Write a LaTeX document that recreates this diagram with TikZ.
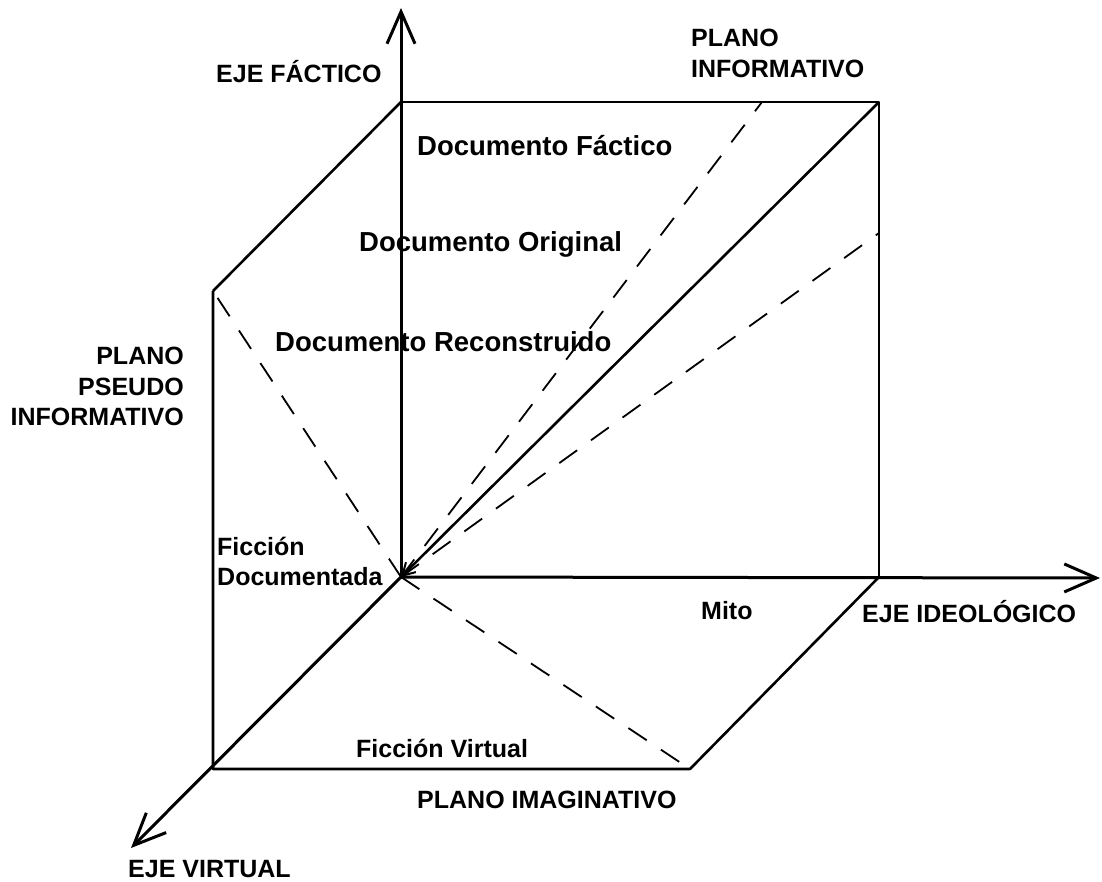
\documentclass[tikz,border=0pt]{standalone}
\usepackage{fontspec}
\setmainfont{Liberation Sans}
\usetikzlibrary{arrows.meta}
\begin{document}
\begin{tikzpicture}[x=1pt,y=-1pt,
  axis/.style={line width=3pt,line join=round,
    -{Straight Barb[length=32pt,width=28pt,line width=3pt]}},
  edge/.style={line width=2.6pt,line join=round},
  guide/.style={line width=1.8pt,dash pattern=on 22pt off 17pt},
  lab/.style={font=\bfseries\fontsize{25}{30.5}\selectfont,inner sep=0pt},
  doc/.style={font=\bfseries\fontsize{27.5}{33}\selectfont,inner sep=0pt},
]
\useasboundingbox (0,0) rectangle (1102,882);

% corners of the box and axis ends
\coordinate (O)  at (401,577);
\coordinate (A)  at (401,102);
\coordinate (B)  at (879,102);
\coordinate (C)  at (879,577);
\coordinate (D)  at (213,291);
\coordinate (E)  at (213,769);
\coordinate (F)  at (690,769);
\coordinate (T1) at (762,102);
\coordinate (R1) at (879,233);
\coordinate (Xf) at (401,8);
\coordinate (Xi) at (1100,578);
\coordinate (Xv) at (131,848);

% box edges
\draw[edge] (A) -- (B) -- (C);
\draw[edge] (D) -- (A);
\draw[edge] (D) -- (E) -- (F) -- (C);

% diagonals
\draw[edge,{Straight Barb[length=12pt,width=14pt,line width=2pt]}-] (O) -- (B);
\draw[guide] (O) -- (T1);
\draw[guide] (O) -- (R1);
\draw[guide] (O) -- (D);
\draw[guide] (O) -- (F);

% axes
\draw[axis] (O) -- (Xf);
\draw[axis] (O) -- (Xi);
\draw[axis] (O) -- (Xv);

% labels
\node[lab,anchor=base west] (lf) at (216,83) {EJE FÁCTICO};
\node[lab,anchor=north west,align=left] (lpi) at (691,29) {PLANO\\INFORMATIVO};
\node[lab,anchor=north east,align=right] (lpp) at (184,347) {PLANO\\PSEUDO\\INFORMATIVO};
\node[lab,anchor=base west] (li) at (862,622) {EJE IDEOLÓGICO};
\node[lab,anchor=base west] (lim) at (417,808) {PLANO IMAGINATIVO};
\node[lab,anchor=base west] (lv) at (128,877) {EJE VIRTUAL};

\node[doc,anchor=base west] (df) at (417,156) {Documento Fáctico};
\node[doc,anchor=base west] (do) at (359,252) {Documento Original};
\node[doc,anchor=base west] (dr) at (275,351) {Documento Reconstruido};

\node[lab,anchor=north west,align=left,
  font=\bfseries\fontsize{25}{29.5}\selectfont] (fd) at (217,537) {Ficción\\Documentada};
\node[lab,anchor=base west] (mi) at (701,619) {Mito};
\node[lab,anchor=base west] (fv) at (356,757) {Ficción Virtual};
\end{tikzpicture}
\end{document}
